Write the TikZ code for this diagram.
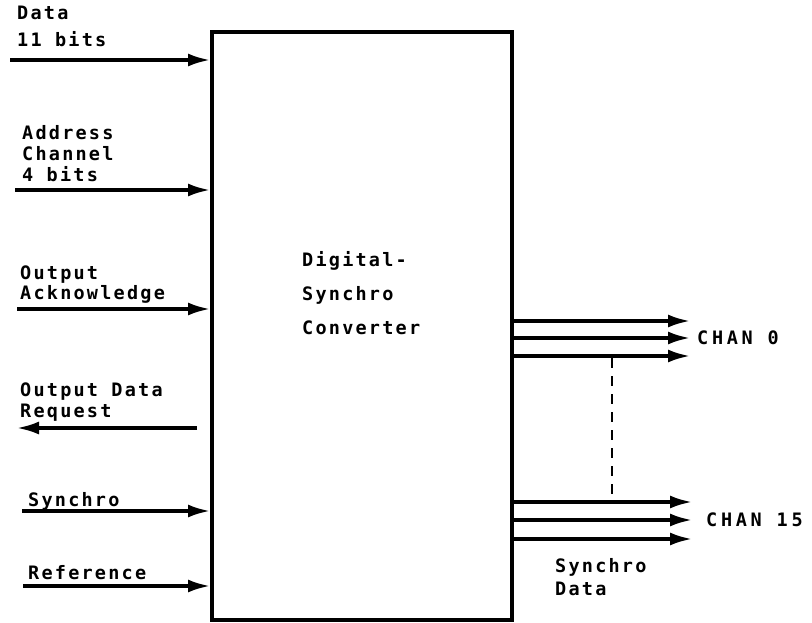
\documentclass[tikz,border=0pt]{standalone}
\usepackage{fontspec}
\newfontfamily\lblfont[LetterSpace=12, UprightFont=* Bold, BoldFont=* Bold]{DejaVu Sans Mono}
\newfontfamily\chanfont[LetterSpace=20, UprightFont=* Bold, BoldFont=* Bold]{DejaVu Sans Mono}
\usetikzlibrary{arrows.meta}
\begin{document}
\begin{tikzpicture}[x=1pt,y=-1pt,
  lbl/.style={font=\lblfont\fontsize{18.5}{20}\selectfont, inner sep=0pt, anchor=base west, align=left},
  chan/.style={font=\chanfont\fontsize{18.5}{20}\selectfont, inner sep=0pt, anchor=west},
  sig/.style={line width=3.2pt, -{Latex[length=22pt,width=13pt]}},
  box/.style={draw, line width=4pt}]
\useasboundingbox (0,0) rectangle (812,623);
% main box
\node[box, minimum width=300pt, minimum height=588pt, inner sep=0pt] (conv) at (362,326) {};
\node[lbl, anchor=north west, font=\lblfont\fontsize{18.5}{34}\selectfont] (title) at (302,251) {Digital-\\Synchro\\Converter};
% left side inputs
\coordinate (dataS) at (10,60);
\coordinate (addrS) at (15,190);
\coordinate (ackS) at (17,309);
\coordinate (reqE) at (17,428);
\coordinate (reqS) at (197,428);
\coordinate (synS) at (22,511);
\coordinate (refS) at (23,586);
\draw[sig] (dataS) -- (dataS -| conv.west);
\draw[sig] (addrS) -- (addrS -| conv.west);
\draw[sig] (ackS) -- (ackS -| conv.west);
\draw[sig] (reqS) -- (reqE);
\draw[sig] (synS) -- (synS -| conv.west);
\draw[sig] (refS) -- (refS -| conv.west);
\node[lbl] (ldata) at (17,20) {Data};
\node[lbl] (lbits) at (17,47) {11 bits};
\node[lbl] (laddr) at (22,140) {Address};
\node[lbl] (lchan) at (22,161) {Channel};
\node[lbl] (l4) at (22,182) {4 bits};
\node[lbl] (lout) at (20,279) {Output};
\node[lbl] (lack) at (20,299) {Acknowledge};
\node[lbl] (lodr) at (20,396) {Output Data};
\node[lbl] (lreq) at (20,417) {Request};
\node[lbl] (lsyn) at (28,506) {Synchro};
\node[lbl] (lref) at (28,579) {Reference};
% right side outputs
\coordinate (a1) at (690,321);
\coordinate (a2) at (690,338);
\coordinate (a3) at (690,356);
\coordinate (b1) at (692,502);
\coordinate (b2) at (692,520);
\coordinate (b3) at (692,539);
\draw[sig] (a1 -| conv.east) -- (a1);
\draw[sig] (a2 -| conv.east) -- (a2);
\draw[sig] (a3 -| conv.east) -- (a3);
\draw[sig] (b1 -| conv.east) -- (b1);
\draw[sig] (b2 -| conv.east) -- (b2);
\draw[sig] (b3 -| conv.east) -- (b3);
\coordinate (dtop) at (612,358);
\coordinate (dbot) at (612,502);
\draw[line width=2pt, dash pattern=on 10pt off 8pt] (dtop) -- (dbot);
\node[chan] (c0) at (697,338) {CHAN 0};
\node[chan] (c15) at (706,520) {CHAN 15};
\node[lbl] (lsd1) at (555,572) {Synchro};
\node[lbl] (lsd2) at (555,595) {Data};
\end{tikzpicture}
\end{document}
